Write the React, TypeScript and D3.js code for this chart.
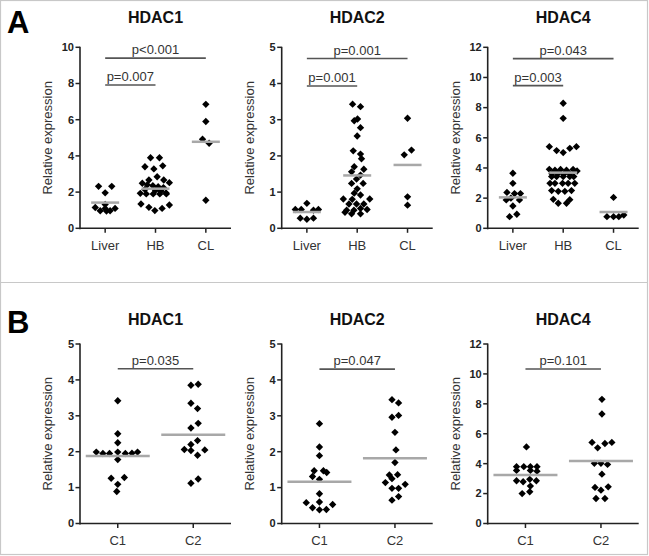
import React from "react";
import * as d3 from "d3";

// Dot plots: relative HDAC expression by tissue (A) and by cluster (B)

const titles = ["HDAC1", "HDAC2", "HDAC4"];
const catsA = ["Liver", "HB", "CL"];
const catsB = ["C1", "C2"];

const yMaxA = [10, 5, 12];
const yMaxB = [5, 5, 12];
const yStepA = [2, 1, 2];
const yStepB = [1, 1, 2];

// each point: [value, jitter slot]
type Pt = [number, number];

const hdac1A: Pt[][] = [
	[[2.32, -1], [2.32, 1], [1.96, 0], [1.32, 0], [1.15, -1.5], [0.97, -0.75], [1.1, 0], [0.97, 0.75], [1.1, 1.5], [0.95, 0.2]],
	[[3.9, -0.75], [3.9, 0.6], [3.4, -1.6], [3.28, -0.25], [3.45, 1.1], [2.85, 0.25], [2.67, -1], [2.67, 1.25], [2.49, -2], [2.52, 2.1],
	 [2.4, -1.25], [2.35, -0.4], [2.3, 0.4], [2.25, 1.2], [2.15, -1.6], [2.1, 0], [2.05, 0.8], [1.95, 1.6], [1.93, -2.3], [1.9, -1.4],
	 [1.9, -0.35], [1.9, 0.65], [1.9, 1.65], [1.34, -2.2], [1.16, -1], [0.98, -0.1], [1.1, 1], [1.29, 2.1]],
	[[6.85, 0], [5.9, 0], [4.92, -0.5], [4.7, 0.5], [1.55, 0]],
];
const hdac2A: Pt[][] = [
	[[0.69, 0], [0.52, -1.75], [0.52, -0.85], [0.5, 1], [0.52, 1.75], [0.28, -1], [0.25, 0], [0.28, 1]],
	[[3.43, -0.7], [3.36, 0.5], [2.97, -0.45], [3.02, 0.05], [2.78, 0.5], [2.55, 0], [2.14, -0.6], [2.05, 0.5], [1.92, 0.65], [1.7, -0.45],
	 [1.63, 1], [1.56, -0.85], [1.47, 0.5], [1.36, -0.1], [1.24, -0.85], [1.24, 0.9], [1.09, 0], [0.97, -0.45], [0.92, 0.5], [0.81, -2.1],
	 [0.8, -0.75], [0.81, 1.9], [0.67, -1.25], [0.67, -0.1], [0.67, 1], [0.5, -1.6], [0.5, -0.5], [0.55, 0.5], [0.52, 1.5], [0.44, -1.85],
	 [0.4, -0.85], [0.4, 0.5]],
	[[3.04, 0], [2.03, -0.5], [2.16, 0.6], [0.87, 0], [0.64, 0]],
];
const hdac4A: Pt[][] = [
	[[3.65, 0], [2.98, 0], [2.38, -0.9], [2.3, 0.25], [2.3, 1.15], [2.0, -0.3], [1.88, -1], [1.88, 1], [1.48, 0], [0.93, 0.6], [0.77, -0.5]],
	[[8.29, 0], [7.29, 0], [5.41, -2.1], [5.15, -1], [5.02, 0], [5.3, 1], [5.41, 2], [3.91, -2.1], [3.85, -1.25], [3.9, -0.4],
	 [3.85, 0.5], [3.9, 1.5], [3.8, 2.1], [3.62, -1.7], [3.62, -0.8], [3.6, 0.1], [3.62, 1], [3.43, -1.75], [3.43, -1], [3.43, 0],
	 [3.43, 1], [3.43, 1.6], [2.98, -2], [2.98, -1.25], [2.98, -0.1], [2.98, 0.75], [2.98, 1.75], [2.5, -1.75], [2.45, -0.75], [2.45, 0.25],
	 [2.5, 1.25], [1.92, -1.5], [1.9, 1], [1.66, -0.75], [1.66, 0.5]],
	[[2.05, 0], [0.77, -1], [0.77, 0], [0.77, 0.8], [0.88, 1.55]],
];

const hdac1B: Pt[][] = [
	[[3.42, 0], [2.5, 0], [2.25, 0], [1.99, -3.25], [1.95, -2.25], [1.95, -1.25], [1.99, 0], [1.95, 1.15], [1.96, 2.15], [1.99, 3],
	 [1.78, 0], [1.26, -1], [1.28, 1], [1.09, 0], [0.89, -0.15]],
	[[3.85, -0.35], [3.88, 0.75], [3.35, -0.35], [3.2, 0.65], [2.79, 0.75], [2.66, -0.35], [2.31, 0.65], [2.2, -0.35], [2.06, -1.35], [2.03, -0.35],
	 [2.05, 1.75], [1.9, 0.65], [1.12, -0.35], [1.24, 0.75]],
];
const hdac2B: Pt[][] = [
	[[2.78, 0], [2.13, 0], [1.89, 0], [1.47, -0.8], [1.47, 0.6], [1.42, 1.1], [1.31, -1.05], [1.23, 0], [0.83, 0], [0.58, -2],
	 [0.6, 0], [0.53, 2], [0.44, -1.05], [0.38, 0], [0.39, 1.05]],
	[[3.45, -0.45], [3.36, 0.55], [2.96, -0.45], [3.01, 0.55], [2.54, 0], [2.05, 0.15], [1.7, 0], [1.35, -0.85], [1.36, 0.4], [1.14, -1.45],
	 [1.25, -0.45], [0.98, -0.45], [0.98, 0.55], [1.09, 1.55], [0.65, -0.45], [0.75, 0.55]],
];
const hdac4B: Pt[][] = [
	[[5.12, 0.15], [3.8, -1.35], [3.8, -0.25], [3.8, 0.75], [3.8, 1.75], [3.55, -1.35], [3.55, 0.75], [3.5, 1.75], [2.95, 0.65], [2.86, -1.35],
	 [2.79, -0.35], [2.86, 1.65], [2.5, 0.75], [2.0, -0.5], [2.12, 0.65]],
	[[8.3, 0.15], [7.32, 0.15], [5.42, -1.35], [5.06, -0.5], [5.35, 0.6], [5.42, 1.65], [4.02, -1], [4.02, 0], [3.95, 1], [3.3, 0.15],
	 [2.41, -0.9], [2.23, 0], [2.45, 1.1], [1.67, -0.75], [1.67, 0.6]],
];

const meansA = [[1.42, 2.19, 4.78], [0.45, 1.46, 1.75], [2.05, 3.69, 1.08]];
const meansB = [[1.88, 2.47], [1.16, 1.82], [3.25, 4.17]];

interface Sig { from: number; to: number; y: number; label: string }
const sigA: Sig[][] = [
	[{ from: 0, to: 2, y: 9.4, label: "p<0.001" }, { from: 0, to: 1, y: 7.92, label: "p=0.007" }],
	[{ from: 0, to: 2, y: 4.69, label: "p=0.001" }, { from: 0, to: 1, y: 3.93, label: "p=0.001" }],
	[{ from: 0, to: 2, y: 11.25, label: "p=0.043" }, { from: 0, to: 1, y: 9.46, label: "p=0.003" }],
];
const sigB: Sig[][] = [
	[{ from: 0, to: 1, y: 4.31, label: "p=0.035" }],
	[{ from: 0, to: 1, y: 4.3, label: "p=0.047" }],
	[{ from: 0, to: 1, y: 10.33, label: "p=0.101" }],
];

const FONT = "Arial, 'Liberation Sans', sans-serif";
const colX = [80, 281.7, 487.7];
const plotW = 151;
const slot = 6.6;
const diamond = d3.symbol(d3.symbolSquare, 27)();

interface PanelProps {
	x0: number;
	top: number;
	bottom: number;
	title: string;
	titleY: number;
	cats: string[];
	yMax: number;
	yStep: number;
	groups: Pt[][];
	means: number[];
	sigs: Sig[];
	halfLine: number;
}

const Panel: React.FC<PanelProps> = ({ x0, top, bottom, title, titleY, cats, yMax, yStep, groups, means, sigs, halfLine }) => {
	const x = d3.scalePoint<string>().domain(cats).range([0, plotW]).padding(0.5);
	const y = d3.scaleLinear().domain([0, yMax]).range([bottom - top, 0]);
	const h = bottom - top;
	const ticks = d3.range(0, yMax + 0.001, yStep);
	return (
		<g transform={`translate(${x0},${top})`} fontFamily={FONT}>
			<text x={plotW / 2} y={titleY - top} textAnchor="middle" fontSize={16} fontWeight="bold" fill="#111">
				{title}
			</text>
			<text transform={`translate(${-28},${h / 2}) rotate(-90)`} textAnchor="middle" fontSize={13} fill="#333">
				Relative expression
			</text>
			{/* y axis */}
			<line x1={0} x2={0} y1={-0.5} y2={h + 1} stroke="#222" strokeWidth={1.6} />
			{ticks.map((t) => (
				<g key={t} transform={`translate(0,${y(t)})`}>
					<line x1={-4.5} x2={0} stroke="#222" strokeWidth={1.5} />
					<text x={-6} dy="0.35em" textAnchor="end" fontSize={11} fontWeight="bold" fill="#222">
						{t}
					</text>
				</g>
			))}
			{/* x axis */}
			<line x1={0} x2={plotW} y1={h} y2={h} stroke="#222" strokeWidth={1.6} />
			{cats.map((c) => (
				<g key={c} transform={`translate(${x(c)},${h})`}>
					<line y1={0} y2={4.5} stroke="#222" strokeWidth={1.5} />
					<text y={17} dy="0.35em" textAnchor="middle" fontSize={13} fill="#333">
						{c}
					</text>
				</g>
			))}
			{/* points */}
			{groups.map((g, i) =>
				g.map(([v, s], j) => (
					<path
						key={`${i}-${j}`}
						d={diamond!}
						transform={`translate(${(x(cats[i]) as number) + s * slot},${y(v)}) rotate(45)`}
						fill="#000"
					/>
				))
			)}
			{/* mean lines */}
			{means.map((m, i) => (
				<line
					key={i}
					x1={(x(cats[i]) as number) - halfLine}
					x2={(x(cats[i]) as number) + halfLine}
					y1={y(m)}
					y2={y(m)}
					stroke="#a8a8a8"
					strokeWidth={2.5}
				/>
			))}
			{/* significance bars */}
			{sigs.map((s, i) => {
				const a = x(cats[s.from]) as number;
				const b = x(cats[s.to]) as number;
				return (
					<g key={i}>
						<line x1={a} x2={b} y1={y(s.y)} y2={y(s.y)} stroke="#555" strokeWidth={1.6} />
						<text x={(a + b) / 2} y={y(s.y) - 4} textAnchor="middle" fontSize={13} fill="#333">
							{s.label}
						</text>
					</g>
				);
			})}
		</g>
	);
};

const App: React.FC = () => {
	const groupsA = [hdac1A, hdac2A, hdac4A];
	const groupsB = [hdac1B, hdac2B, hdac4B];
	return (
		<svg
			width={649}
			height={556}
			style={{ position: "absolute", left: 0, top: 0, background: "#fff" }}
		>
			<rect x={0.5} y={0.5} width={647} height={554} fill="#fff" stroke="#c8c8c8" strokeWidth={1.2} />
			<line x1={0} x2={648} y1={282.5} y2={282.5} stroke="#c8c8c8" strokeWidth={1.2} />
			<text x={7} y={33} fontFamily={FONT} fontWeight="bold" fontSize={31} fill="#000">A</text>
			<text x={7} y={333} fontFamily={FONT} fontWeight="bold" fontSize={31} fill="#000">B</text>
			{titles.map((t, i) => (
				<Panel
					key={`a${i}`}
					x0={colX[i]}
					top={47.3}
					bottom={228.3}
					title={t}
					titleY={23}
					cats={catsA}
					yMax={yMaxA[i]}
					yStep={yStepA[i]}
					groups={groupsA[i]}
					means={meansA[i]}
					sigs={sigA[i]}
					halfLine={14}
				/>
			))}
			{titles.map((t, i) => (
				<Panel
					key={`b${i}`}
					x0={colX[i]}
					top={344}
					bottom={523.5}
					title={t}
					titleY={325}
					cats={catsB}
					yMax={yMaxB[i]}
					yStep={yStepB[i]}
					groups={groupsB[i]}
					means={meansB[i]}
					sigs={sigB[i]}
					halfLine={32}
				/>
			))}
		</svg>
	);
};

export default App;
